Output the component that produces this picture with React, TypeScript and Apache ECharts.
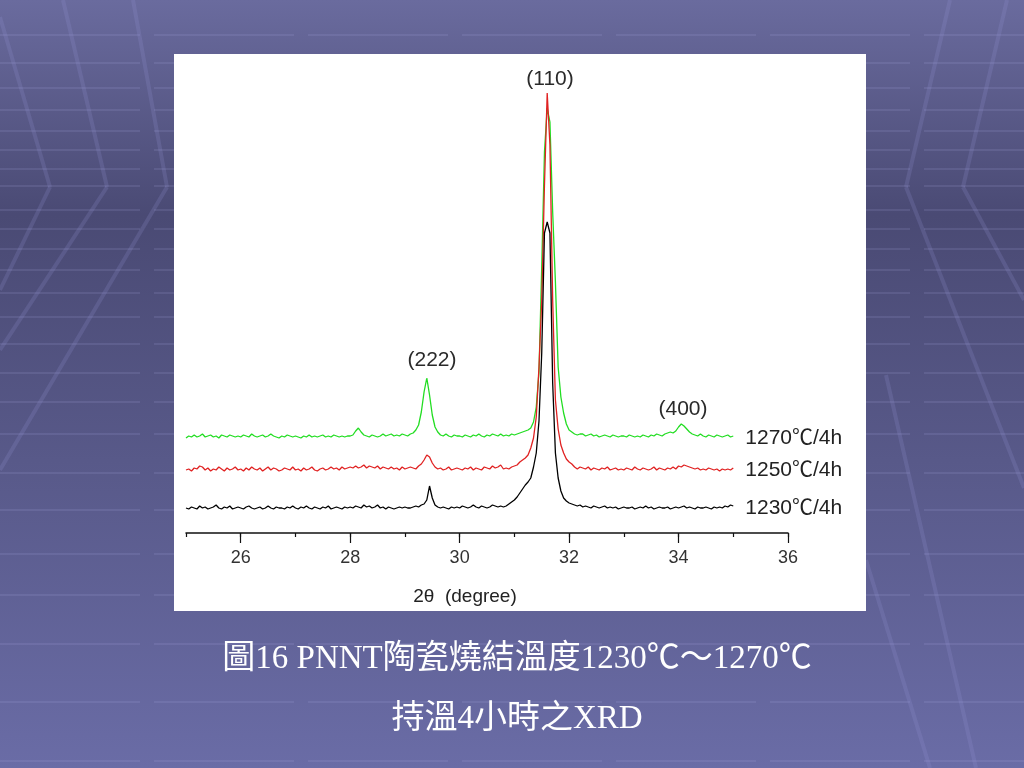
import React, { useEffect, useRef } from "react";
import * as echarts from "echarts";

// XRD scans: 2θ from START in STEP increments (raw intensity, arbitrary units)
const START = 25;
const STEP = 0.05;

const SAMPLES = ["1230℃/4h", "1250℃/4h", "1270℃/4h"];
const OFFSETS = [20, 58, 91];
const COLORS = ["#000000", "#e02222", "#22dd22"];

const I1230 = [
  5,4,6,5,4,7,5,6,4,5,6,8,5,4,6,5,7,4,5,6,
  5,4,6,7,5,4,5,6,4,5,7,5,4,6,5,5,4,6,5,7,
  5,4,6,5,7,5,4,6,5,4,6,5,7,4,5,6,5,4,6,5,
  6,5,7,6,5,8,6,7,5,6,8,5,6,4,6,5,4,5,6,5,
  6,5,5,6,7,6,8,9,13,27,15,8,6,5,6,5,4,6,5,6,
  5,7,6,5,6,8,6,5,7,6,5,6,8,7,6,7,6,7,9,11,
  13,16,20,24,28,31,35,46,60,92,160,280,291,280,130,60,35,22,15,12,
  10,9,8,7,8,6,7,6,5,7,6,5,6,7,5,6,5,6,4,5,
  6,5,5,6,4,5,6,5,7,5,6,4,5,6,5,5,6,4,5,6,
  5,6,7,5,6,5,4,6,5,5,6,5,4,6,5,6,5,7,6,8,7,
];

const I1250 = [
  5,6,4,7,6,9,8,5,7,4,6,5,8,6,4,7,5,6,8,5,
  6,4,7,5,8,6,5,7,4,6,8,5,7,6,4,5,7,6,5,8,
  5,6,4,7,5,6,8,5,4,6,7,5,6,8,6,7,5,8,6,7,
  8,7,9,7,8,10,7,9,8,7,9,6,8,7,6,8,6,7,5,8,
  6,7,8,7,6,9,11,15,20,18,12,8,6,7,5,6,8,5,6,7,
  6,5,7,6,8,5,7,6,5,8,7,6,9,7,8,10,6,7,6,8,
  9,10,13,15,17,20,27,37,58,108,175,290,382,330,175,75,46,30,22,16,
  13,11,8,6,8,7,6,8,5,7,6,5,7,6,8,5,6,7,5,6,
  5,7,6,5,8,6,5,7,6,5,6,8,5,7,6,5,7,6,8,6,
  9,8,10,9,8,7,6,7,5,6,5,7,6,5,6,4,6,5,6,5,7,
];

const I1270 = [
  4,6,5,7,5,6,8,5,6,7,5,6,4,7,6,5,7,6,5,6,
  5,7,6,5,8,6,5,6,7,5,6,8,6,5,4,6,5,7,6,5,
  6,5,4,6,5,7,5,6,5,6,7,5,6,5,7,6,5,6,5,6,
  6,7,11,14,10,7,6,5,7,6,5,6,8,6,7,8,6,7,6,8,
  7,6,8,9,12,17,30,50,64,47,27,15,10,7,6,8,6,5,7,6,
  6,5,7,6,5,7,6,8,6,5,7,6,8,7,6,8,6,7,6,8,
  7,8,9,10,11,12,14,20,35,70,175,290,334,320,230,160,75,45,29,18,
  12,10,8,7,8,8,6,7,8,6,7,5,6,7,6,5,7,6,5,6,
  6,5,7,6,5,6,5,7,6,5,7,6,8,7,6,8,9,10,9,11,
  15,18,16,13,10,8,7,6,8,6,5,7,6,5,7,6,5,6,7,5,6,
];

const INTENSITIES = [I1230, I1250, I1270];

const PEAKS = ["(110)", "(222)", "(400)"];
const X_NAME = "2θ  (degree)";
const CAPTION1 = "圖16 PNNT陶瓷燒結溫度1230℃～1270℃";
const CAPTION2 = "持溫4小時之XRD";

const H_LINES = [35, 63, 88, 110, 131, 150, 169, 186, 210, 229, 249, 270, 293, 317, 344, 373, 402, 434, 473, 510, 554, 595, 644, 702, 761];
const DIAG = [
  [0, 17, 50, 187], [50, 187, 0, 290],
  [63, 0, 107, 187], [107, 187, 0, 350],
  [133, 0, 167, 187], [167, 187, 0, 470],
  [1007, 0, 963, 187], [963, 187, 1024, 300],
  [950, 0, 906, 187], [906, 187, 1024, 488],
  [886, 375, 976, 768], [866, 560, 930, 768],
];

export default function App() {
  const ref = useRef<HTMLDivElement>(null);
  useEffect(() => {
    if (!ref.current) return;
    const chart = echarts.init(ref.current, null, { renderer: "svg", width: 1024, height: 768 });
    const order = [2, 1, 0];
    const series = order.map((k) => ({
      type: "line",
      name: SAMPLES[k],
      xAxisIndex: 0,
      yAxisIndex: 0,
      showSymbol: false,
      symbol: "none",
      z: 3 + (2 - k),
      lineStyle: { color: COLORS[k], width: 1.3 },
      itemStyle: { color: COLORS[k] },
      data: INTENSITIES[k].map((v, i) => [START + i * STEP, v + OFFSETS[k]]),
      endLabel: {
        show: true,
        formatter: SAMPLES[k],
        color: "#222",
        fontSize: 21,
        fontFamily: "'Liberation Sans', 'Noto Sans CJK TC', sans-serif",
        distance: 12,
      },
    }));

    const graphic: any[] = [
      {
        type: "rect",
        z: -10,
        silent: true,
        shape: { x: 0, y: 0, width: 1024, height: 768 },
        style: {
          fill: {
            type: "linear", x: 0, y: 0, x2: 0, y2: 1,
            colorStops: [
              { offset: 0, color: "#6a6b9e" },
              { offset: 0.28, color: "#4a4a74" },
              { offset: 0.6, color: "#585989" },
              { offset: 1, color: "#6a6ca6" },
            ],
          },
        },
      },
      ...H_LINES.map((y) => ({
        type: "line", z: -9, silent: true,
        shape: { x1: 0, y1: y, x2: 1024, y2: y },
        style: { stroke: "rgba(175,175,235,0.14)", lineWidth: 2, lineDash: [140, 14] },
      })),
      ...DIAG.map((d) => ({
        type: "line", z: -9, silent: true,
        shape: { x1: d[0], y1: d[1], x2: d[2], y2: d[3] },
        style: { stroke: "rgba(150,150,215,0.2)", lineWidth: 4 },
      })),
      {
        type: "rect", z: -8, silent: true,
        shape: { x: 174, y: 54, width: 692, height: 557 },
        style: { fill: "#ffffff" },
      },
      ...[[550, 77], [432, 358], [683, 407]].map((p, i) => ({
        type: "text", z: 10, x: p[0], y: p[1],
        style: {
          text: PEAKS[i], fill: "#2a2a2a", fontSize: 21,
          fontFamily: "'Liberation Sans', sans-serif",
          align: "center", verticalAlign: "middle",
        },
      })),
      {
        type: "text", z: 10, x: 465, y: 595,
        style: {
          text: X_NAME, fill: "#222", fontSize: 19,
          fontFamily: "'Liberation Sans', 'DejaVu Sans', sans-serif",
          align: "center", verticalAlign: "middle",
        },
      },
      {
        type: "text", z: 10, x: 517, y: 657,
        style: {
          text: CAPTION1, fill: "#ffffff", fontSize: 33,
          fontFamily: "'Liberation Serif', 'Noto Sans CJK TC', serif",
          align: "center", verticalAlign: "middle",
        },
      },
      {
        type: "text", z: 10, x: 517, y: 717,
        style: {
          text: CAPTION2, fill: "#ffffff", fontSize: 33,
          fontFamily: "'Liberation Serif', 'Noto Sans CJK TC', serif",
          align: "center", verticalAlign: "middle",
        },
      },
    ];

    chart.setOption({
      animation: false,
      graphic,
      grid: [
        { left: 186, right: 236, top: 54, bottom: 235 },
        { left: 186 + 602 / 11, right: 236, top: 54, bottom: 235 },
      ],
      xAxis: [
        {
          type: "value", gridIndex: 0, min: 25, max: 36, interval: 1, z: 5,
          axisLine: { show: true, onZero: false, lineStyle: { color: "#111", width: 1.5 } },
          axisTick: { show: true, length: 4, lineStyle: { color: "#111", width: 1.2 } },
          axisLabel: { show: false },
          splitLine: { show: false },
        },
        {
          type: "value", gridIndex: 1, min: 26, max: 36, interval: 2, z: 5,
          axisLine: { show: false },
          axisTick: { show: true, length: 10, lineStyle: { color: "#111", width: 1.2 } },
          axisLabel: {
            show: true, fontSize: 18, color: "#333", margin: 15,
            fontFamily: "'Liberation Sans', sans-serif",
          },
          splitLine: { show: false },
        },
      ],
      yAxis: [
        { type: "value", gridIndex: 0, min: 0, max: 479, show: false, splitLine: { show: false } },
        { type: "value", gridIndex: 1, min: 0, max: 1, show: false, splitLine: { show: false } },
      ],
      series,
    });
    return () => chart.dispose();
  }, []);
  return (
    <div
      ref={ref}
      style={{ position: "fixed", left: 0, top: 0, width: 1024, height: 768 }}
    />
  );
}
